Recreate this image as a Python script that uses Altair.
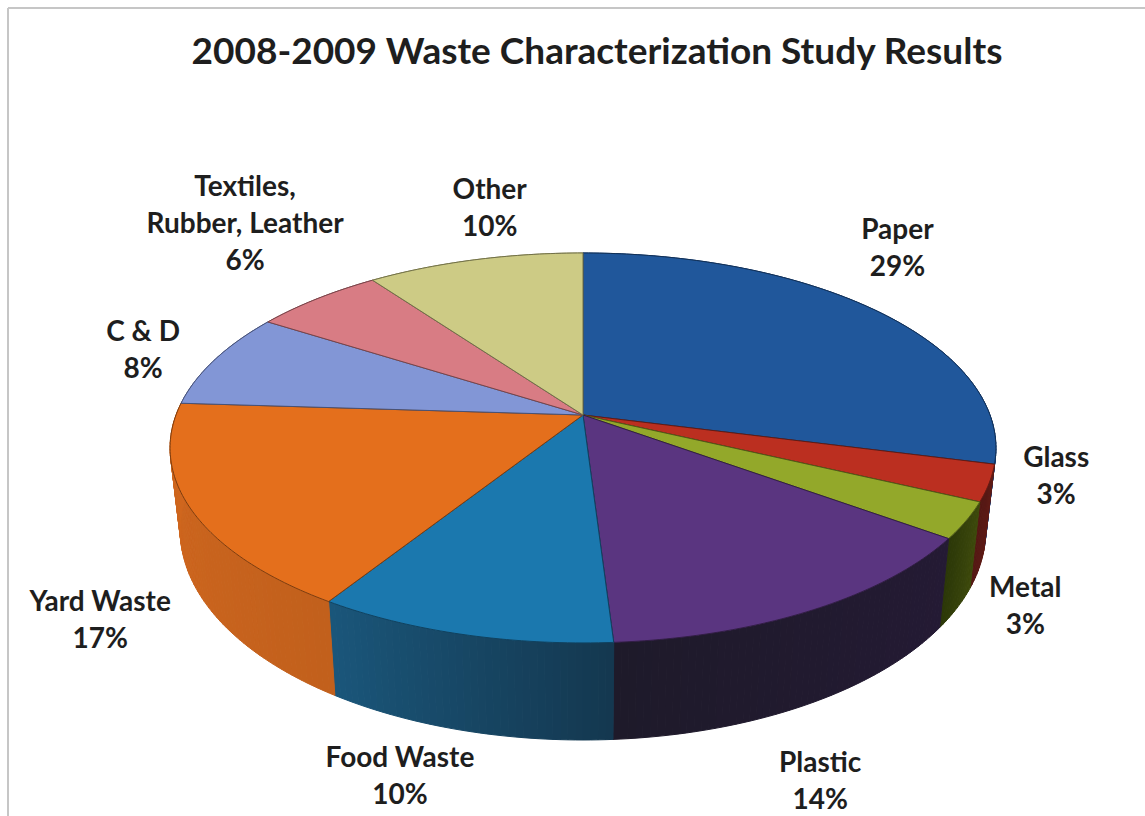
import math

import altair as alt
import pandas as pd

# Survey results, clockwise from twelve o'clock
categories = ["Paper", "Glass", "Metal", "Plastic", "Food Waste", "Yard Waste", "C & D",
              "Textiles,\nRubber, Leather", "Other"]
shares = [29, 3, 3, 14, 10, 17, 8, 6, 10]
top_colors = ["#20579b", "#bb2f20", "#93a82a", "#5a3580", "#1b78ae", "#e46f1c", "#8296d6",
              "#d87c84", "#cdcb85"]
wall_from = ["#1c4580", "#611c16", "#3e4a0c", "#241a34", "#143850", "#c2601c", "#5a6aa0",
             "#a05a60", "#9a985f"]
wall_to = ["#1a3f78", "#551814", "#2c3808", "#1e1a2a", "#1a567a", "#d2681f", "#5a6aa0",
           "#a05a60", "#9a985f"]
title_text = "2008-2009 Waste Characterization Study Results"

# Perspective model of the disc: upper face, then the lower rim of the wall
CX, CY, TILT = 583.0, 415.0, 0.169
TOP_A, TOP_B = 407.0, 189.4
LOW_A, LOW_B, LOW_Y = 397.0, 204.0, 494.5
LINE_HEIGHT = 37

# Offset of each label's block centre from the rim point at its slice's mid-angle
label_offsets = [(23, -60), (67, -6), (59, 87), (7, 173), (-62, 143), (-90, 113),
                 (-72, -8), (-72, -74), (15, -50)]


def project(frac, a, b, y0):
    theta = 2 * math.pi * frac
    u, v = math.sin(theta), math.cos(theta)
    d = 1 + TILT * v
    return CX + a * u / d, y0 - b * v / d


def mix(c1, c2, t):
    p = [int(c1[i:i + 2], 16) for i in (1, 3, 5)]
    q = [int(c2[i:i + 2], 16) for i in (1, 3, 5)]
    return "#" + "".join(f"{round(a + (b - a) * t):02x}" for a, b in zip(p, q))


face_rows, wall_rows, label_rows = [], [], []
start = 0.0
for n, (name, share) in enumerate(zip(categories, shares)):
    end = start + share / 100
    steps = max(6, share * 4)
    key = f"s{n}"
    edge = mix(top_colors[n], "#000000", 0.45)

    # Upper face wedge: apex, rim, back to apex
    outline = [(CX, CY)]
    outline += [project(start + (end - start) * k / steps, TOP_A, TOP_B, CY) for k in range(steps + 1)]
    outline.append((CX, CY))
    for i, (x, y) in enumerate(outline):
        face_rows.append({"key": key, "i": i, "x": x, "y": y, "fill": top_colors[n], "edge": edge})

    # Wall strip, cut into short quads so its shade can shift along the rim
    for k in range(steps):
        f0 = start + (end - start) * k / steps
        f1 = start + (end - start) * (k + 1) / steps
        shade = mix(wall_from[n], wall_to[n], k / max(steps - 1, 1))
        quad = [project(f0, TOP_A, TOP_B, CY), project(f1, TOP_A, TOP_B, CY),
                project(f1, LOW_A, LOW_B, LOW_Y), project(f0, LOW_A, LOW_B, LOW_Y),
                project(f0, TOP_A, TOP_B, CY)]
        for i, (x, y) in enumerate(quad):
            wall_rows.append({"key": f"{key}_{k:03d}", "i": i, "x": x, "y": y, "fill": shade})

    text = f"{name}\n{share}%"
    rim_x, rim_y = project((start + end) / 2, TOP_A, TOP_B, CY)
    dx, dy = label_offsets[n]
    # Multi-line text is anchored on its first line, so lift it by half the block
    lift = (text.count("\n")) * LINE_HEIGHT / 2
    label_rows.append({"x": rim_x + dx, "y": rim_y + dy - lift, "text": text})
    start = end

x_scale = alt.Scale(domain=[0, 1145], range=[0, 1145])
y_scale = alt.Scale(domain=[0, 816], range=[0, 816])
x_enc = alt.X("x:Q", scale=x_scale, axis=None)
y_enc = alt.Y("y:Q", scale=y_scale, axis=None)

frame = alt.Chart(pd.DataFrame({"x": [8, 8], "x2": [1145, 8], "y": [8, 8], "y2": [8, 816]})).mark_rule(
    color="#c6c6c6", strokeWidth=2
).encode(x=x_enc, x2="x2:Q", y=y_enc, y2="y2:Q")

walls = alt.Chart(pd.DataFrame(wall_rows)).mark_line(filled=True, strokeWidth=1, interpolate="linear").encode(
    x=x_enc, y=y_enc, order="i:Q", detail="key:N",
    color=alt.Color("fill:N", scale=None),
    stroke=alt.Stroke("fill:N", scale=None),
)

faces = alt.Chart(pd.DataFrame(face_rows)).mark_line(filled=True, strokeWidth=1, interpolate="linear").encode(
    x=x_enc, y=y_enc, order="i:Q", detail="key:N",
    color=alt.Color("fill:N", scale=None),
    stroke=alt.Stroke("edge:N", scale=None),
)

labels = alt.Chart(pd.DataFrame(label_rows)).mark_text(
    font="Lato", fontWeight="bold", fontSize=28, lineHeight=LINE_HEIGHT, lineBreak="\n",
    color="#1e1e1e", align="center", baseline="middle",
).encode(x=x_enc, y=y_enc, text="text:N")

heading = alt.Chart(pd.DataFrame({"x": [597], "y": [53], "text": [title_text]})).mark_text(
    font="Lato", fontWeight="bold", fontSize=37, color="#1e1e1e", align="center", baseline="middle",
).encode(x=x_enc, y=y_enc, text="text:N")

chart = alt.layer(frame, walls, faces, labels, heading).properties(
    width=1145, height=816, padding=0, autosize=alt.AutoSizeParams(type="none"), background="#ffffff",
).configure_view(stroke=None)

chart.save("out.html", embed_options={"renderer": "svg", "actions": False})
